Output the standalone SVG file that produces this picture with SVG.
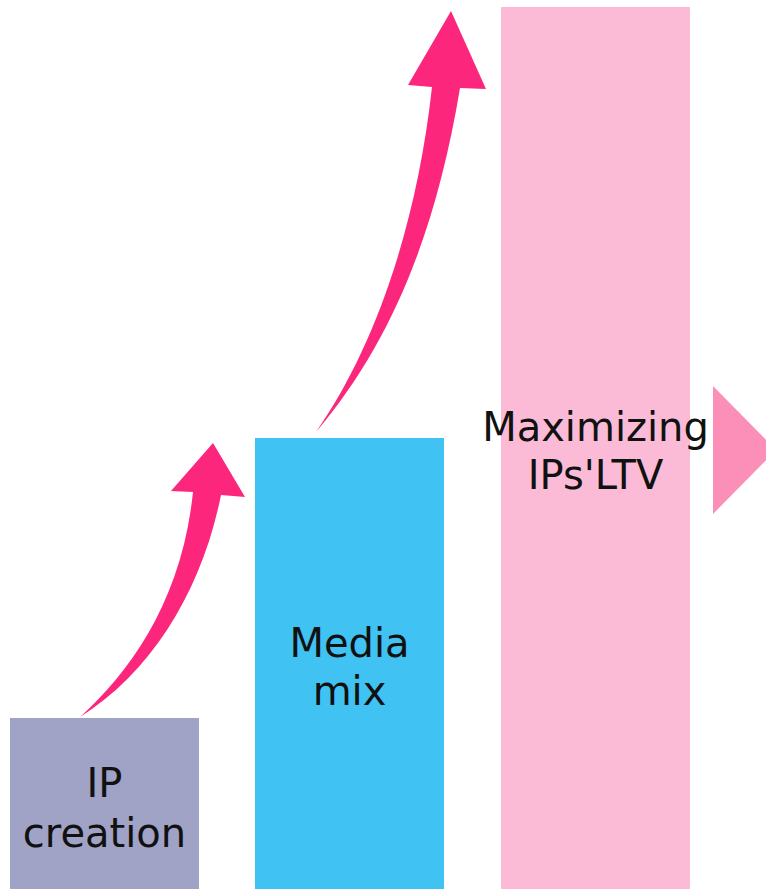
<svg xmlns="http://www.w3.org/2000/svg" width="766" height="889" viewBox="0 0 766 889">
  <style>
    .label { font-family: "DejaVu Sans", Verdana, sans-serif; font-size: 40px; fill: #111; text-anchor: middle; }
    .rise { fill: #fc267c; }
  </style>
  <rect width="766" height="889" fill="#fff"/>

  <g id="node-ip-creation">
    <rect x="10" y="718" width="189" height="171" fill="#a0a2c6"/>
    <text class="label" x="104.5" y="797">IP</text>
    <text class="label" x="104.5" y="847">creation</text>
  </g>

  <g id="node-media-mix">
    <rect x="255" y="438" width="189" height="451" fill="#40c2f2"/>
    <text class="label" x="349.5" y="657">Media</text>
    <text class="label" x="349.5" y="705">mix</text>
  </g>

  <g id="node-maximizing">
    <rect x="501" y="7" width="189" height="882" fill="#fbbbd6"/>
    <text class="label" x="595.5" y="441">Maximizing</text>
    <text class="label" x="595.5" y="489">IPs'LTV</text>
  </g>

  <g id="next-marker">
    <polygon points="713,386 776,450 713,514" fill="#fc8fb8"/>
  </g>

  <g id="connectors">
    <!-- IP creation to Media mix -->
    <path class="rise" d="M 80 717 C 130 672 182 600 193 492 L 171 491 L 213 443 L 245 497 L 221 495 C 202 590 152 672 80 717 Z"/>
    <!-- Media mix to Maximizing -->
    <path class="rise" d="M 316 432 C 372 352 416 232 432 87 L 408 85 L 451 11 L 486 89 L 460 88 C 436 232 392 342 316 432 Z"/>
  </g>
</svg>
